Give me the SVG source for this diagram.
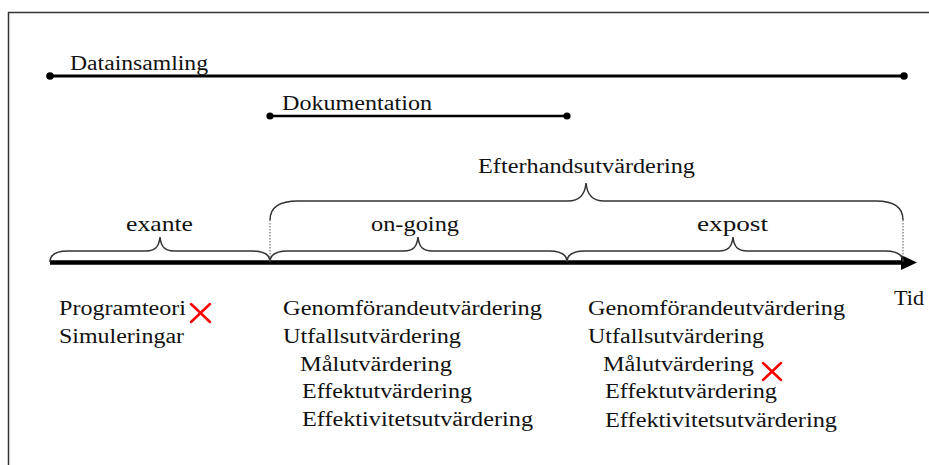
<svg xmlns="http://www.w3.org/2000/svg" width="929" height="465" viewBox="0 0 929 465">
<style>
text{font-family:"Liberation Serif","DejaVu Serif","Noto Serif",serif;font-size:20px;fill:#111}
.big{font-size:21px}
.brace{fill:none;stroke:#333;stroke-width:1.5}
.dot{fill:none;stroke:#555;stroke-width:1;stroke-dasharray:1.5 1.5}
.bar{stroke:#000}
.x{stroke:#f00;stroke-width:2.5;stroke-linecap:round}
</style>
<rect x="8.5" y="12.5" width="940" height="470" fill="#fff" stroke="#333" stroke-width="1.5"/>
<g id="connectors">
<g id="datainsamling-bar">
<line class="bar" x1="50" y1="76" x2="904" y2="76" stroke-width="3"/>
<circle cx="50" cy="76" r="3.8"/><circle cx="904" cy="76" r="3.8"/>
</g>
<g id="dokumentation-bar">
<line class="bar" x1="270" y1="116" x2="567" y2="116" stroke-width="2.5"/>
<circle cx="270" cy="116" r="3.6"/><circle cx="567" cy="116" r="3.6"/>
</g>
<g id="time-axis">
<line class="bar" x1="50" y1="262.5" x2="905" y2="262.5" stroke-width="4.5"/>
<polygon points="901,255 917,262.5 901,270" fill="#000"/>
</g>
<g id="braces">
<path class="brace" d="M50,262 C50,254 56,251 68,251 L146,251 C155,251 159,247 160,237 C161,247 165,251 174,251 L252,251 C264,251 270,254 270,262"/>
<path class="brace" d="M270,262 C270,254 276,251 288,251 L404,251 C413,251 417,247 418,237 C419,247 423,251 432,251 L549,251 C561,251 567,254 567,262"/>
<path class="brace" d="M567,262 C567,254 573,251 585,251 L719,251 C728,251 732,247 733,237 C734,247 738,251 747,251 L885,251 C897,251 903,254 903,262"/>
<path class="brace" d="M270,220 C270,207 279,201 298,201 L568,201 C579,201 585,195 586,183 C587,195 593,201 604,201 L876,201 C894,201 903,207 903,220"/>
<line class="dot" x1="270" y1="220" x2="270" y2="262"/>
<line class="dot" x1="903" y1="220" x2="903" y2="262"/>
</g>
</g>
<g id="labels-top">
<text x="70" y="70" textLength="138" lengthAdjust="spacingAndGlyphs">Datainsamling</text>
<text x="282" y="110" textLength="150" lengthAdjust="spacingAndGlyphs">Dokumentation</text>
<text x="478" y="173" textLength="217" lengthAdjust="spacingAndGlyphs">Efterhandsutvärdering</text>
<text class="big" x="126" y="231" textLength="67" lengthAdjust="spacingAndGlyphs">exante</text>
<text class="big" x="371" y="231" textLength="88" lengthAdjust="spacingAndGlyphs">on-going</text>
<text class="big" x="697" y="231" textLength="71" lengthAdjust="spacingAndGlyphs">expost</text>
<text x="894" y="305" textLength="30" lengthAdjust="spacingAndGlyphs">Tid</text>
</g>
<g id="exante-list">
<text x="59" y="315" textLength="127" lengthAdjust="spacingAndGlyphs">Programteori</text>
<text x="59" y="343" textLength="125" lengthAdjust="spacingAndGlyphs">Simuleringar</text>
<g id="x1"><line class="x" x1="191" y1="304" x2="210" y2="322"/><line class="x" x1="210" y1="304" x2="191" y2="322"/></g>
</g>
<g id="ongoing-list">
<text x="283" y="315" textLength="259" lengthAdjust="spacingAndGlyphs">Genomförandeutvärdering</text>
<text x="283" y="343" textLength="178" lengthAdjust="spacingAndGlyphs">Utfallsutvärdering</text>
<text x="300" y="371" textLength="152" lengthAdjust="spacingAndGlyphs">Målutvärdering</text>
<text x="302" y="398" textLength="170" lengthAdjust="spacingAndGlyphs">Effektutvärdering</text>
<text x="302" y="426" textLength="231" lengthAdjust="spacingAndGlyphs">Effektivitetsutvärdering</text>
</g>
<g id="expost-list">
<text x="588" y="315" textLength="257" lengthAdjust="spacingAndGlyphs">Genomförandeutvärdering</text>
<text x="588" y="343" textLength="176" lengthAdjust="spacingAndGlyphs">Utfallsutvärdering</text>
<text x="603" y="371" textLength="151" lengthAdjust="spacingAndGlyphs">Målutvärdering</text>
<text x="605" y="398" textLength="172" lengthAdjust="spacingAndGlyphs">Effektutvärdering</text>
<text x="605" y="427" textLength="232" lengthAdjust="spacingAndGlyphs">Effektivitetsutvärdering</text>
<g id="x2"><line class="x" x1="763" y1="363" x2="781" y2="380"/><line class="x" x1="781" y1="363" x2="763" y2="380"/></g>
</g>
</svg>
